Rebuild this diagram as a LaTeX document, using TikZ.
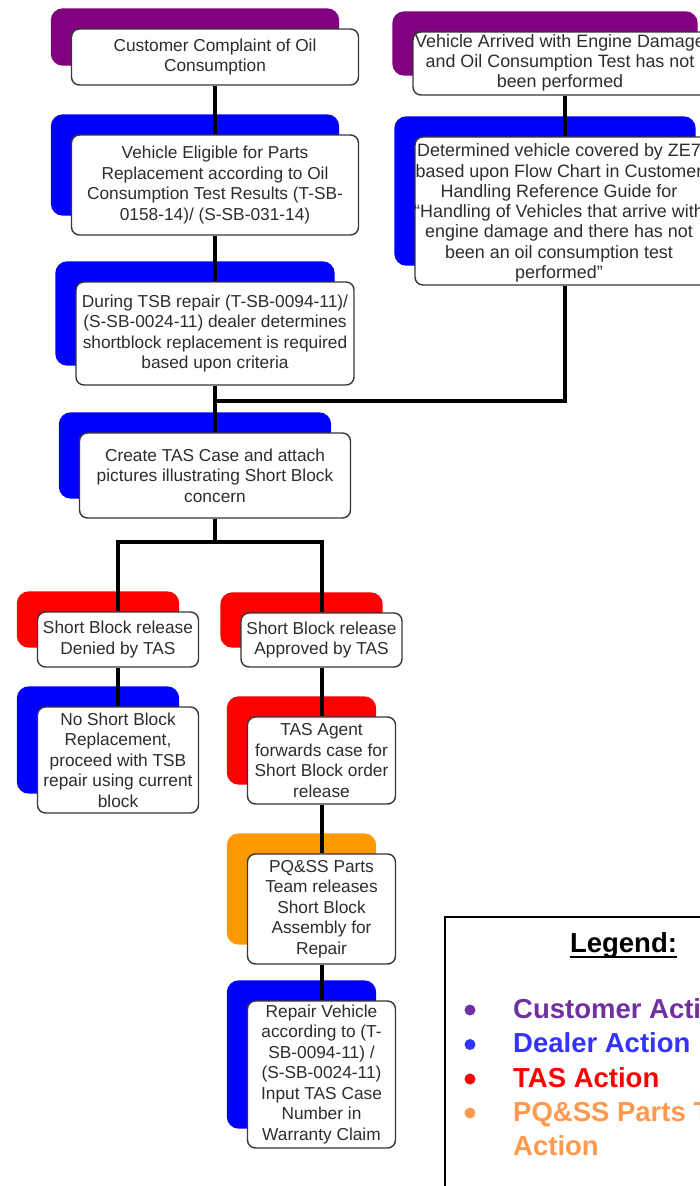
\documentclass[tikz,border=0pt]{standalone}
\usepackage{fontspec}
\setmainfont{Liberation Sans}
\pgfdeclarelayer{back}
\pgfdeclarelayer{conn}
\pgfsetlayers{back,conn,main}
\definecolor{cpurple}{RGB}{128,0,128}
\definecolor{cblue}{RGB}{0,0,255}
\definecolor{cred}{RGB}{255,0,0}
\definecolor{corange}{RGB}{255,153,0}
\definecolor{lpurple}{RGB}{112,48,160}
\definecolor{lblue}{RGB}{51,51,255}
\definecolor{lred}{RGB}{255,0,0}
\definecolor{lorange}{RGB}{255,153,77}
\definecolor{txtgray}{RGB}{45,45,45}
\definecolor{bordergray}{RGB}{55,55,55}
\newcommand\backrect[2]{\fill[#1, rounded corners=12pt] ([shift={(-20pt,20pt)}]#2.south west) rectangle ([shift={(-20pt,20pt)}]#2.north east);}
\begin{document}
\begin{tikzpicture}[x=1pt,y=1pt,
  wbox/.style={draw=bordergray, line width=1.4pt, fill=white, rounded corners=8pt, inner sep=0pt, align=center, text=txtgray, font=\fontsize{17.3}{20.5}\selectfont},
  btext/.style={inner sep=0pt, align=center, text=txtgray, font=\fontsize{17.9}{20.3}\selectfont},
  conn/.style={line width=4pt, black},
  legfont/.style={inner sep=0pt, anchor=base west, font=\bfseries\fontsize{27.5}{33}\selectfont}
]
\useasboundingbox (0,0) rectangle (700,-1186);
\clip (0,0) rectangle (700,-1186);

% left column
\node[wbox, minimum width=287pt, minimum height=56pt] (c1) at (215,-57) {Customer Complaint of Oil\\Consumption};
\node[wbox, minimum width=287pt, minimum height=100pt] (c2) at (215,-185) {Vehicle Eligible for Parts\\Replacement according to Oil\\Consumption Test Results (T-SB-\\0158-14)/ (S-SB-031-14)};
\node[wbox, minimum width=278pt, minimum height=103pt] (d3) at (215,-333.5) {During TSB repair (T-SB-0094-11)/\\(S-SB-0024-11) dealer determines\\shortblock replacement is required\\based upon criteria};
\node[wbox, minimum width=271pt, minimum height=85pt] (d4) at (215,-475.5) {Create TAS Case and attach\\pictures illustrating Short Block\\concern};

% right column
\node[wbox, minimum width=304pt, minimum height=63pt] (r1) at (565,-63.5) {};
\node[btext] (r1t) at (560,-63) {Vehicle Arrived with Engine Damage\\and Oil Consumption Test has not\\been performed};
\node[wbox, minimum width=300pt, minimum height=148pt] (r2) at (565,-211) {};
\node[btext] (r2t) at (559,-213) {Determined vehicle covered by ZE7\\based upon Flow Chart in Customer\\Handling Reference Guide for\\``Handling of Vehicles that arrive with\\engine damage and there has not\\been an oil consumption test\\performed''};

% lower branches
\node[wbox, minimum width=161pt, minimum height=55pt] (den) at (118,-639.5) {Short Block release\\Denied by TAS};
\node[wbox, minimum width=161pt, minimum height=54pt] (app) at (321.5,-640) {Short Block release\\Approved by TAS};
\node[wbox, minimum width=161pt, minimum height=106pt] (nosb) at (118,-760) {No Short Block\\Replacement,\\proceed with TSB\\repair using current\\block};
\node[wbox, minimum width=148pt, minimum height=87pt] (agent) at (321.5,-760.5) {TAS Agent\\forwards case for\\Short Block order\\release};
\node[wbox, minimum width=148pt, minimum height=110pt] (pq) at (321.5,-909) {PQ\&SS Parts\\Team releases\\Short Block\\Assembly for\\Repair};
\node[wbox, minimum width=148pt, minimum height=147pt] (rep) at (321.5,-1074.5) {Repair Vehicle\\according to (T-\\SB-0094-11) /\\(S-SB-0024-11)\\Input TAS Case\\Number in\\Warranty Claim};

\begin{pgfonlayer}{back}
\backrect{cpurple}{c1}
\backrect{cblue}{c2}
\backrect{cblue}{d3}
\backrect{cblue}{d4}
\backrect{cpurple}{r1}
\backrect{cblue}{r2}
\backrect{cred}{den}
\backrect{cred}{app}
\backrect{cblue}{nosb}
\backrect{cred}{agent}
\backrect{corange}{pq}
\backrect{cblue}{rep}
\end{pgfonlayer}

\begin{pgfonlayer}{conn}
\coordinate (j1) at (215,-401);
\coordinate (j2) at (215,-542);
\draw[conn] (c1.south) -- (c2.north);
\draw[conn] (c2.south) -- (d3.north);
\draw[conn] (d3.south) -- (d4.north);
\draw[conn] (r1.south) -- (r2.north);
\draw[conn] (r2.south) |- (j1);
\draw[conn] (d4.south) -- (j2);
\draw[conn] (den.north) |- (j2) -| (app.north);
\draw[conn] (den.south) -- (nosb.north);
\draw[conn] (app.south) -- (agent.north);
\draw[conn] (agent.south) -- (pq.north);
\draw[conn] (pq.south) -- (rep.north);
\end{pgfonlayer}

% legend
\node[draw, line width=2.2pt, anchor=north west, minimum width=320pt, minimum height=320pt] (legbox) at (444,-916) {};
\node[inner sep=0pt, anchor=base, font=\bfseries\fontsize{27.5}{33}\selectfont] (legt) at (623.5,-952) {Legend:};
\draw[line width=2pt] ([yshift=-5pt]legt.base west) -- ([yshift=-5pt]legt.base east);
\fill[lpurple] (470,-1010) circle (5.5pt);
\node[legfont, text=lpurple] (l1) at (513,-1018) {Customer Action};
\fill[lblue] (470,-1044.5) circle (5.5pt);
\node[legfont, text=lblue] (l2) at (513,-1052.5) {Dealer Action};
\fill[lred] (470,-1079) circle (5.5pt);
\node[legfont, text=lred] (l3) at (513,-1087) {TAS Action};
\fill[lorange] (470,-1113) circle (5.5pt);
\node[legfont, text=lorange] (l4) at (513,-1121) {PQ\&SS Parts Team};
\node[legfont, text=lorange] (l5) at (513,-1155) {Action};
\end{tikzpicture}
\end{document}
